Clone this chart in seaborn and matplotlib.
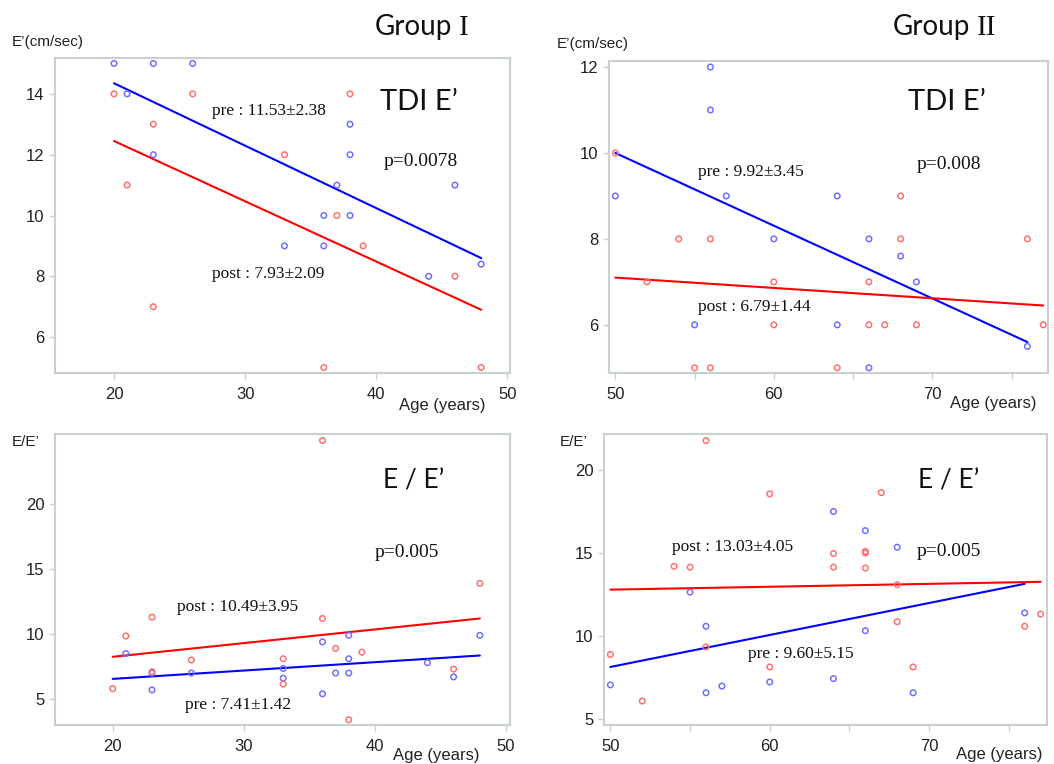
import numpy as np
import pandas as pd
import seaborn as sns
import matplotlib.pyplot as plt

# Group I, TDI E'
g1_e_pre_age = [20, 23, 26, 21, 23, 38, 38, 37, 46, 36, 38, 33, 36, 44, 48]
g1_e_pre = [15, 15, 15, 14, 12, 13, 12, 11, 11, 10, 10, 9, 9, 8, 8.4]
g1_e_post_age = [20, 26, 38, 23, 33, 21, 37, 39, 23, 46, 36, 48]
g1_e_post = [14, 14, 14, 13, 12, 11, 10, 9, 7, 8, 5, 5]
g1_e_fit_age = [20, 48]
g1_e_fit_pre = [14.35, 8.6]
g1_e_fit_post = [12.45, 6.9]

# Group II, TDI E'
g2_e_pre_age = [56, 56, 50, 57, 64, 60, 66, 68, 69, 55, 64, 66, 76]
g2_e_pre = [12, 11, 9, 9, 9, 8, 8, 7.6, 7, 6, 6, 5, 5.5]
g2_e_post_age = [50, 68, 54, 56, 68, 76, 52, 60, 66, 60, 66, 67, 69, 77, 55, 56, 64]
g2_e_post = [10, 9, 8, 8, 8, 8, 7, 7, 7, 6, 6, 6, 6, 6, 5, 5, 5]
g2_e_fit_pre_age = [50, 76]
g2_e_fit_pre = [10, 5.6]
g2_e_fit_post_age = [50, 77]
g2_e_fit_post = [7.1, 6.45]

# Group I, E/E'
g1_r_pre_age = [21, 23, 23, 26, 33, 33, 36, 36, 37, 38, 38, 38, 44, 46, 48]
g1_r_pre = [8.5, 7.0, 5.7, 7.0, 7.35, 6.6, 9.4, 5.4, 7.0, 9.9, 8.1, 7.0, 7.8, 6.7, 9.9]
g1_r_post_age = [36, 48, 21, 23, 20, 23, 26, 33, 33, 36, 37, 39, 38, 46]
g1_r_post = [24.9, 13.9, 9.85, 11.3, 5.8, 7.1, 8.0, 8.1, 6.15, 11.2, 8.9, 8.6, 3.4, 7.3]
g1_r_fit_age = [20, 48]
g1_r_fit_pre = [6.55, 8.35]
g1_r_fit_post = [8.25, 11.2]

# Group II, E/E'
g2_r_pre_age = [64, 66, 68, 55, 76, 56, 66, 50, 56, 57, 60, 64, 69]
g2_r_pre = [17.5, 16.35, 15.35, 12.65, 11.4, 10.6, 10.33, 7.07, 6.6, 7.0, 7.25, 7.45, 6.6]
g2_r_post_age = [56, 60, 67, 54, 55, 64, 64, 66, 66, 66, 68, 77, 76, 68, 56, 50, 60, 69, 52]
g2_r_post = [21.76, 18.56, 18.64, 14.2, 14.15, 14.97, 14.15, 15.1, 15.0, 14.1, 13.1,
             11.33, 10.6, 10.87, 9.35, 8.9, 8.15, 8.15, 6.1]
g2_r_fit_pre_age = [50, 76]
g2_r_fit_pre = [8.15, 13.15]
g2_r_fit_post_age = [50, 77]
g2_r_fit_post = [12.8, 13.27]

sns.set_theme(style="white")
plt.rcParams['font.family'] = ['Liberation Sans', 'DejaVu Sans']

W, H = 1054, 764
fig = plt.figure(figsize=(W / 100, H / 100), dpi=100)

BLUE_M = '#7070ff'
RED_M = '#ff7070'
SPINE = '#c8d0d0'
SERIF = ['Liberation Serif', 'DejaVu Serif']
TITLE = ['Lato', 'DejaVu Sans']


def px_axes(l, t, r, b):
    return fig.add_axes([l / W, 1 - b / H, (r - l) / W, (b - t) / H])


def ftext(x, y, s, **kw):
    fig.text(x / W, 1 - y / H, s, **kw)


def panel(ax, pre_age, pre, post_age, post, fpre_age, fpre, fpost_age, fpost,
          xlim, ylim, xticks, yticks, minor=None):
    sns.scatterplot(x=pre_age, y=pre, ax=ax, marker='o', s=16, facecolors='none',
                    edgecolor=BLUE_M, linewidth=1.1, zorder=3)
    sns.scatterplot(x=post_age, y=post, ax=ax, marker='o', s=16, facecolors='none',
                    edgecolor=RED_M, linewidth=1.1, zorder=3)
    sns.lineplot(x=fpre_age, y=fpre, ax=ax, color='blue', linewidth=1.5, zorder=2)
    sns.lineplot(x=fpost_age, y=fpost, ax=ax, color='red', linewidth=1.5, zorder=2)
    ax.set_xlim(*xlim)
    ax.set_ylim(*ylim)
    ax.set_xticks(xticks)
    ax.set_yticks(yticks)
    if minor is not None:
        ax.set_xticks(minor, minor=True)
    ax.set_xlabel('')
    ax.set_ylabel('')
    for sp in ax.spines.values():
        sp.set_color(SPINE)
        sp.set_linewidth(1.5)
    ax.tick_params(which='both', direction='out', length=4, width=1, color=SPINE,
                   labelsize=12, labelcolor='#222222', bottom=True, left=True)
    ax.tick_params(axis='x', pad=6)


ax1 = px_axes(55, 58, 510, 373)
panel(ax1, g1_e_pre_age, g1_e_pre, g1_e_post_age, g1_e_post,
      g1_e_fit_age, g1_e_fit_pre, g1_e_fit_age, g1_e_fit_post,
      (15.5, 50.2), (4.82, 15.18), [20, 30, 40, 50], [6, 8, 10, 12, 14])

ax2 = px_axes(609, 61, 1048, 373)
panel(ax2, g2_e_pre_age, g2_e_pre, g2_e_post_age, g2_e_post,
      g2_e_fit_pre_age, g2_e_fit_pre, g2_e_fit_post_age, g2_e_fit_post,
      (49.6, 77.3), (4.88, 12.14), [50, 60, 70], [6, 8, 10, 12], minor=[55, 65, 75])

ax3 = px_axes(55, 434, 510, 725)
panel(ax3, g1_r_pre_age, g1_r_pre, g1_r_post_age, g1_r_post,
      g1_r_fit_age, g1_r_fit_pre, g1_r_fit_age, g1_r_fit_post,
      (15.6, 50.3), (3.0, 25.4), [20, 30, 40, 50], [5, 10, 15, 20])

ax4 = px_axes(604, 434, 1047, 725)
panel(ax4, g2_r_pre_age, g2_r_pre, g2_r_post_age, g2_r_post,
      g2_r_fit_pre_age, g2_r_fit_pre, g2_r_fit_post_age, g2_r_fit_post,
      (49.6, 77.4), (4.66, 22.16), [50, 60, 70], [5, 10, 15, 20], minor=[55, 65, 75])

# group titles (roman numerals drawn in a serif face, as in the original)
ftext(375, 35, 'Group', fontsize=20, family=TITLE, color='#111111')
ftext(459, 35, 'I', fontsize=21, family=SERIF, color='#111111')
ftext(893, 35, 'Group', fontsize=20, family=TITLE, color='#111111')
ftext(977, 35, 'II', fontsize=21, family=SERIF, color='#111111')

# axis labels
ftext(12, 46, 'E’(cm/sec)', fontsize=11, color='#222222')
ftext(557, 48, 'E’(cm/sec)', fontsize=11, color='#222222')
ftext(12, 446, 'E/E’', fontsize=11, color='#222222')
ftext(560, 446, 'E/E’', fontsize=11, color='#222222')
ftext(399, 410, 'Age (years)', fontsize=12, color='#222222')
ftext(950, 408, 'Age (years)', fontsize=12, color='#222222')
ftext(393, 760, 'Age (years)', fontsize=12, color='#222222')
ftext(956, 759, 'Age (years)', fontsize=12, color='#222222')

# panel labels
ftext(380, 110, 'TDI E’', fontsize=21, family=TITLE, color='#111111')
ftext(908, 110, 'TDI E’', fontsize=21, family=TITLE, color='#111111')
ftext(383, 488, 'E / E’', fontsize=19, family=TITLE, color='#111111')
ftext(918, 488, 'E / E’', fontsize=19, family=TITLE, color='#111111')

# stats
ftext(212, 115, 'pre : 11.53±2.38', fontsize=12.5, family=SERIF, color='#111111')
ftext(384, 166, 'p=0.0078', fontsize=14, family=SERIF, color='#111111')
ftext(212, 278, 'post : 7.93±2.09', fontsize=12.5, family=SERIF, color='#111111')
ftext(698, 176, 'pre : 9.92±3.45', fontsize=12.5, family=SERIF, color='#111111')
ftext(917, 169, 'p=0.008', fontsize=14, family=SERIF, color='#111111')
ftext(698, 311, 'post : 6.79±1.44', fontsize=12.5, family=SERIF, color='#111111')
ftext(375, 557, 'p=0.005', fontsize=14, family=SERIF, color='#111111')
ftext(177, 611, 'post : 10.49±3.95', fontsize=12.5, family=SERIF, color='#111111')
ftext(185, 709, 'pre : 7.41±1.42', fontsize=12.5, family=SERIF, color='#111111')
ftext(672, 551, 'post : 13.03±4.05', fontsize=12.5, family=SERIF, color='#111111')
ftext(917, 556, 'p=0.005', fontsize=14, family=SERIF, color='#111111')
ftext(748, 658, 'pre : 9.60±5.15', fontsize=12.5, family=SERIF, color='#111111')

fig.savefig('out.png', dpi=100)
